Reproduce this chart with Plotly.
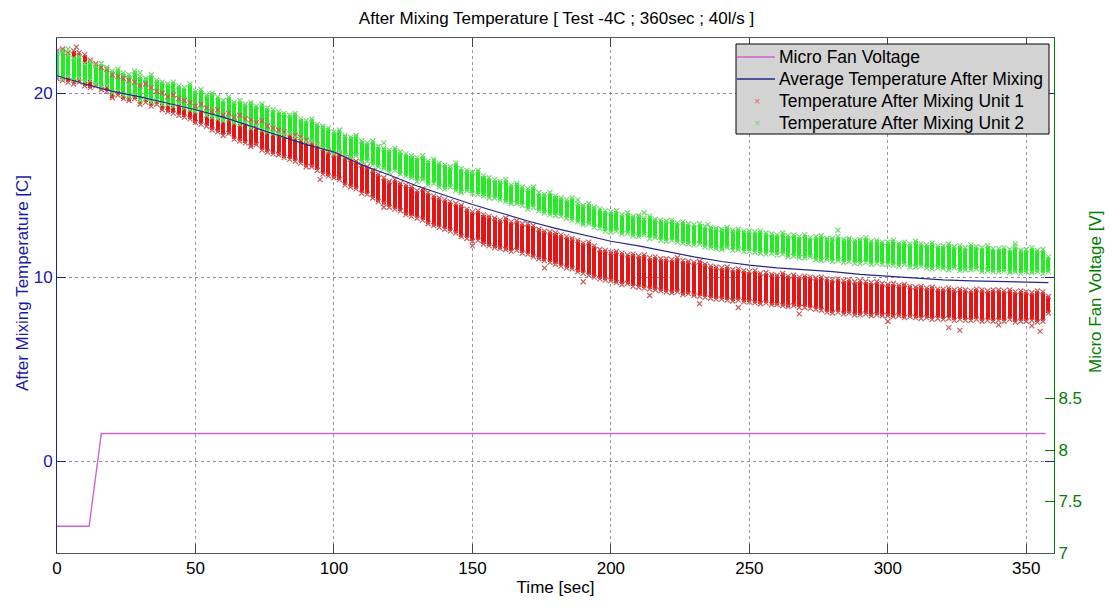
import numpy as np
import plotly.graph_objects as go

# Sample clock of the logged temperature bursts [sec]
sample_time = list(range(0, 360, 2))

# Unit 1 (red) reading spread per burst: upper / lower value [C]
unit1_hi = [
    22.3, 22.4, 22.2, 22.3, 22.2, 22.1, 21.8, 21.6, 21.4, 21.3,
    21.0, 20.9, 20.8, 20.7, 20.6, 20.4, 20.5, 20.3, 20.1, 20.0,
    19.8, 19.9, 19.7, 19.6, 19.5, 19.3, 19.4, 19.2, 19.0, 19.1,
    18.8, 18.9, 18.7, 18.8, 18.6, 18.55, 18.4, 18.5, 18.2, 18.1,
    18.0, 17.9, 17.8, 17.7, 17.6, 17.45, 17.3, 17.2, 17.0, 16.8,
    16.65, 16.7, 16.5, 16.4, 16.3, 16.1, 16.0, 15.8, 15.6, 15.4,
    15.2, 15.3, 15.1, 15.0, 14.9, 14.7, 14.8, 14.6, 14.4, 14.3,
    14.2, 14.1, 14.0, 13.9, 13.7, 13.55, 13.6, 13.4, 13.3, 13.2,
    13.1, 13.2, 13.0, 13.05, 12.9, 12.9, 12.8, 12.6, 12.5, 12.45,
    12.4, 12.3, 12.2, 12.1, 12.0, 11.85, 11.9, 11.7, 11.5, 11.45,
    11.35, 11.4, 11.3, 11.2, 11.25, 11.15, 11.2, 11.05, 11.1, 11.0,
    11.0, 10.95, 11.05, 10.9, 10.85, 10.8, 10.85, 10.7, 10.6, 10.55,
    10.5, 10.55, 10.4, 10.45, 10.35, 10.3, 10.35, 10.2, 10.25, 10.15,
    10.1, 10.2, 10.05, 10.1, 10.0, 10.05, 10.0, 9.95, 10.0, 9.9,
    9.85, 9.9, 9.8, 9.85, 9.75, 9.8, 9.75, 9.7, 9.75, 9.65,
    9.6, 9.65, 9.55, 9.6, 9.5, 9.45, 9.5, 9.4, 9.45, 9.35,
    9.35, 9.4, 9.3, 9.35, 9.3, 9.25, 9.35, 9.3, 9.25, 9.3,
    9.3, 9.25, 9.3, 9.2, 9.25, 9.2, 9.15, 9.25, 9.2, 8.95,
]
unit1_lo = [
    20.8, 20.7, 20.6, 20.5, 20.6, 20.4, 20.3, 20.4, 20.2, 20.1,
    19.75, 19.9, 19.7, 19.6, 19.7, 19.4, 19.5, 19.3, 19.4, 19.1,
    19.0, 18.9, 18.8, 18.7, 18.6, 18.4, 18.3, 18.2, 18.0, 17.9,
    17.7, 17.8, 17.5, 17.4, 17.3, 17.1, 17.2, 16.9, 16.8, 16.7,
    16.65, 16.5, 16.4, 16.3, 16.2, 16.0, 16.0, 15.8, 15.6, 15.5,
    15.4, 15.3, 15.0, 14.9, 14.8, 14.55, 14.5, 14.3, 14.1, 14.0,
    13.8, 13.7, 13.6, 13.4, 13.3, 13.2, 13.1, 12.9, 12.8, 12.7,
    12.6, 12.5, 12.4, 12.2, 12.1, 11.95, 12.0, 11.8, 11.7, 11.6,
    11.55, 11.5, 11.4, 11.45, 11.3, 11.25, 11.1, 11.0, 10.9, 10.8,
    10.7, 10.6, 10.5, 10.45, 10.3, 10.2, 10.1, 10.0, 9.9, 9.85,
    9.8, 9.7, 9.6, 9.65, 9.5, 9.45, 9.4, 9.35, 9.3, 9.25,
    9.2, 9.15, 9.2, 9.05, 9.1, 9.0, 8.95, 8.9, 8.85, 8.8,
    8.8, 8.75, 8.7, 8.75, 8.65, 8.65, 8.6, 8.55, 8.6, 8.5,
    8.5, 8.45, 8.4, 8.45, 8.35, 8.35, 8.3, 8.25, 8.2, 8.1,
    8.05, 8.1, 8.0, 8.05, 7.95, 7.95, 8.0, 7.9, 7.95, 7.9,
    7.9, 7.85, 7.9, 7.8, 7.85, 7.8, 7.75, 7.8, 7.7, 7.75,
    7.7, 7.75, 7.65, 7.7, 7.65, 7.65, 7.7, 7.6, 7.65, 7.6,
    7.65, 7.6, 7.7, 7.55, 7.6, 7.6, 7.65, 7.55, 7.6, 8.05,
]

# Unit 2 (green) reading spread per burst: upper / lower value [C]
unit2_hi = [
    22.2, 22.3, 22.1, 21.9, 22.0, 21.6, 21.7, 21.5, 21.6, 21.4,
    21.2, 21.3, 21.1, 21.0, 21.2, 20.9, 20.8, 21.0, 20.7, 20.6,
    20.5, 20.6, 20.4, 20.3, 20.5, 20.1, 20.2, 19.9, 20.0, 19.8,
    19.6, 19.8, 19.5, 19.6, 19.4, 19.5, 19.3, 19.4, 19.2, 19.1,
    19.0, 18.9, 18.8, 18.9, 18.6, 18.5, 18.6, 18.3, 18.2, 18.1,
    17.9, 18.0, 17.7, 17.6, 17.7, 17.4, 17.3, 17.4, 17.1, 17.0,
    16.9, 17.0, 16.8, 16.7, 16.6, 16.5, 16.6, 16.3, 16.4, 16.2,
    16.1, 16.0, 16.2, 15.9, 15.8, 15.7, 15.8, 15.5, 15.4, 15.3,
    15.2, 15.3, 15.0, 15.1, 14.9, 14.8, 14.9, 14.6, 14.5, 14.6,
    14.4, 14.3, 14.2, 14.3, 14.0, 13.9, 14.0, 13.8, 13.7, 13.6,
    13.55, 13.6, 13.4, 13.5, 13.3, 13.35, 13.2, 13.3, 13.15, 13.1,
    13.05, 13.1, 12.95, 13.0, 12.9, 12.85, 12.9, 12.75, 12.7, 12.65,
    12.6, 12.7, 12.55, 12.6, 12.5, 12.5, 12.45, 12.5, 12.4, 12.35,
    12.3, 12.4, 12.25, 12.3, 12.2, 12.3, 12.15, 12.2, 12.25, 12.1,
    12.1, 12.2, 12.05, 12.1, 12.0, 12.05, 12.15, 11.95, 12.0, 11.9,
    11.9, 12.0, 11.85, 11.9, 11.8, 11.95, 11.8, 11.75, 11.85, 11.7,
    11.7, 11.8, 11.65, 11.7, 11.6, 11.75, 11.65, 11.6, 11.7, 11.55,
    11.55, 11.6, 11.5, 11.65, 11.45, 11.5, 11.6, 11.45, 11.5, 11.1,
]
unit2_lo = [
    20.9, 20.8, 20.9, 20.7, 20.8, 20.6, 20.7, 20.5, 20.3, 20.4,
    20.0, 20.1, 19.9, 19.8, 19.9, 19.6, 19.7, 19.5, 19.6, 19.4,
    19.4, 19.3, 19.4, 19.2, 19.1, 19.0, 19.1, 18.8, 18.7, 18.6,
    18.5, 18.6, 18.4, 18.3, 18.4, 18.1, 18.2, 18.0, 17.9, 17.8,
    17.75, 17.7, 17.8, 17.6, 17.5, 17.35, 17.4, 17.2, 17.0, 16.9,
    16.75, 16.8, 16.6, 16.5, 16.6, 16.25, 16.3, 16.1, 16.0, 15.9,
    15.7, 15.8, 15.6, 15.5, 15.4, 15.2, 15.3, 15.0, 15.1, 14.9,
    14.8, 14.9, 14.7, 14.6, 14.7, 14.55, 14.5, 14.4, 14.3, 14.3,
    14.2, 14.1, 14.0, 14.0, 13.9, 13.7, 13.8, 13.6, 13.5, 13.4,
    13.35, 13.3, 13.2, 13.1, 13.0, 12.85, 12.9, 12.7, 12.65, 12.5,
    12.45, 12.5, 12.35, 12.4, 12.25, 12.2, 12.3, 12.1, 12.15, 12.0,
    11.95, 12.0, 11.9, 11.85, 11.8, 11.75, 11.8, 11.65, 11.6, 11.55,
    11.5, 11.6, 11.45, 11.5, 11.4, 11.4, 11.35, 11.3, 11.25, 11.3,
    11.2, 11.25, 11.1, 11.15, 11.05, 11.05, 11.1, 10.95, 10.9, 10.95,
    10.85, 10.9, 10.8, 10.85, 10.75, 10.75, 10.8, 10.7, 10.75, 10.7,
    10.7, 10.65, 10.6, 10.7, 10.55, 10.55, 10.6, 10.5, 10.45, 10.5,
    10.45, 10.4, 10.5, 10.35, 10.4, 10.4, 10.45, 10.3, 10.35, 10.3,
    10.3, 10.35, 10.25, 10.3, 10.2, 10.3, 10.25, 10.3, 10.2, 10.3,
]

# Stray readings lying outside the main bursts
unit1_stray_t = [7, 95, 118, 150, 176, 190, 214, 232, 246, 268, 300, 322, 326, 340, 352, 355]
unit1_stray_v = [22.5, 15.3, 13.8, 11.7, 10.5, 9.75, 9.0, 8.55, 8.35, 8.0, 7.6, 7.25, 7.1, 7.4, 7.35, 7.05]
unit2_stray_t = [4, 30, 118, 188, 212, 235, 282, 346]
unit2_stray_v = [22.4, 21.1, 17.3, 14.2, 13.5, 12.85, 12.55, 11.8]

# Average temperature after mixing [C]
avg_time = [0, 10, 20, 30, 40, 50, 60, 70, 80, 90, 100, 110, 120, 130, 140, 150, 160, 170, 180,
            190, 200, 210, 220, 230, 240, 250, 260, 270, 280, 290, 300, 310, 320, 330, 340, 350, 358]
avg_temp = [20.95, 20.5, 20.1, 19.8, 19.45, 19.1, 18.7, 18.2, 17.7, 17.2, 16.8, 16.1, 15.55, 14.95,
            14.45, 13.95, 13.5, 13.05, 12.65, 12.3, 11.95, 11.7, 11.4, 11.1, 10.85, 10.65, 10.5,
            10.4, 10.3, 10.15, 10.05, 9.95, 9.85, 9.8, 9.75, 9.7, 9.7]

# Micro fan voltage [V]
fan_time = [0, 11.6, 16.0, 357]
fan_volt = [7.26, 7.26, 8.16, 8.16]

# Legend entries: label, colour, sample kind
legend_labels = ["Micro Fan Voltage", "Average Temperature After Mixing",
                 "Temperature After Mixing Unit 1", "Temperature After Mixing Unit 2"]
legend_colors = ["#cc66cc", "#26268a", "#dc6a6a", "#6ade6a"]
legend_kinds = ["line", "line", "marker", "marker"]

FONT = "Liberation Sans, Arial, sans-serif"
FS = 17
BLUE = "#1a1aa6"
GREEN = "#008000"

t = np.array(sample_time)
u1_hi, u1_lo = np.array(unit1_hi), np.array(unit1_lo)
u2_hi, u2_lo = np.array(unit2_hi), np.array(unit2_lo)

fig = go.Figure()

# burst spreads as floating columns
fig.add_trace(go.Bar(x=t, y=u1_hi - u1_lo, base=u1_lo, width=1.45,
                     marker=dict(color="#e61414", line=dict(width=0)),
                     showlegend=False, hoverinfo="skip"))
fig.add_trace(go.Bar(x=t, y=u2_hi - u2_lo, base=u2_lo, width=1.45,
                     marker=dict(color="#22ec22", line=dict(width=0)),
                     showlegend=False, hoverinfo="skip"))

xmark = dict(symbol="x-thin", size=5)

fig.add_trace(go.Scatter(
    x=np.concatenate([t, t, unit1_stray_t]),
    y=np.concatenate([u1_hi, u1_lo, unit1_stray_v]),
    mode="markers", name=legend_labels[2], showlegend=False,
    marker=dict(**xmark, color="#cc5a5a", line=dict(color="#cc5a5a", width=1.2))))
fig.add_trace(go.Scatter(
    x=np.concatenate([t, t, unit2_stray_t]),
    y=np.concatenate([u2_hi, u2_lo, unit2_stray_v]),
    mode="markers", name=legend_labels[3], showlegend=False,
    marker=dict(**xmark, color="#6ade6a", line=dict(color="#6ade6a", width=1.2))))

fig.add_trace(go.Scatter(x=avg_time, y=avg_temp, mode="lines",
                         name=legend_labels[1], showlegend=False,
                         line=dict(color="#26268a", width=1.2)))

fig.add_trace(go.Scatter(x=fan_time, y=fan_volt, mode="lines", yaxis="y2",
                         name=legend_labels[0], showlegend=False,
                         line=dict(color="#cc66cc", width=1.4)))

# MATLAB-style legend box drawn in paper coordinates
plot_l, plot_w, plot_b, plot_h = 57, 997, 553, 515


def px_x(px):
    return (px - plot_l) / plot_w


def px_y(py):
    return (plot_b - py) / plot_h


shapes = [dict(type="rect", xref="paper", yref="paper", layer="above",
               x0=px_x(736), x1=px_x(1049), y0=px_y(134), y1=px_y(44),
               fillcolor="#d4d4d4", line=dict(color="black", width=1))]
annotations = []
row_y = [57, 79, 101, 123]
for label, color, kind, ry in zip(legend_labels, legend_colors, legend_kinds, row_y):
    if kind == "line":
        shapes.append(dict(type="line", xref="paper", yref="paper", layer="above",
                           x0=px_x(737), x1=px_x(775), y0=px_y(ry), y1=px_y(ry),
                           line=dict(color=color, width=1.3)))
    else:
        annotations.append(dict(text="×", xref="paper", yref="paper",
                                x=px_x(757), y=px_y(ry), xanchor="center", yanchor="middle",
                                showarrow=False, font=dict(family=FONT, size=11, color=color)))
    annotations.append(dict(text=label, xref="paper", yref="paper",
                            x=px_x(777), y=px_y(ry), xanchor="left", yanchor="middle",
                            showarrow=False, font=dict(family=FONT, size=17.5, color="black")))

annotations += [
    dict(text="After Mixing Temperature [C]", textangle=-90, xref="paper", yref="paper",
         x=px_x(22), y=px_y(283), xanchor="center", yanchor="middle", showarrow=False,
         font=dict(family=FONT, size=FS, color=BLUE)),
    dict(text="Micro Fan Voltage [V]", textangle=-90, xref="paper", yref="paper",
         x=px_x(1095), y=px_y(292), xanchor="center", yanchor="middle", showarrow=False,
         font=dict(family=FONT, size=FS, color=GREEN)),
]

fig.update_layout(
    width=1113, height=608,
    margin=dict(l=57, r=59, t=38, b=55),
    paper_bgcolor="white", plot_bgcolor="white",
    barmode="overlay", bargap=0, showlegend=False,
    font=dict(family=FONT, size=FS, color="black"),
    title=dict(text="After Mixing Temperature [ Test -4C ; 360sec ; 40l/s ]",
               x=0.5, xanchor="center", y=0.970, yanchor="middle", yref="container",
               font=dict(family=FONT, size=FS, color="black")),
    xaxis=dict(range=[0, 360], tickvals=[0, 50, 100, 150, 200, 250, 300, 350],
               ticks="inside", ticklen=9, tickcolor="#444", showline=True,
               linecolor="#555", linewidth=1, mirror="ticks", zeroline=False,
               showgrid=True, gridcolor="#9a9a9a", griddash="dot", gridwidth=1,
               tickfont=dict(size=FS, color="black"),
               title=dict(text="Time [sec]", standoff=3, font=dict(size=FS, color="black"))),
    yaxis=dict(range=[-5, 23], tickvals=[0, 10, 20], ticks="inside", ticklen=9,
               tickcolor="#20209a", showline=True, linecolor="#20209a", linewidth=1,
               mirror="ticks", zeroline=False, showgrid=True, gridcolor="#8a8aa8",
               griddash="dot", gridwidth=1, tickfont=dict(size=FS, color=BLUE)),
    yaxis2=dict(range=[7, 12], overlaying="y", side="right",
                tickvals=[7, 7.5, 8, 8.5], ticktext=["7", "7.5", "8", "8.5"],
                ticks="inside", ticklen=9, tickcolor=GREEN, showline=True,
                linecolor=GREEN, linewidth=1, showgrid=False, zeroline=False,
                tickfont=dict(size=FS, color=GREEN)),
    shapes=shapes,
    annotations=annotations,
)

fig.write_html("out.html")
